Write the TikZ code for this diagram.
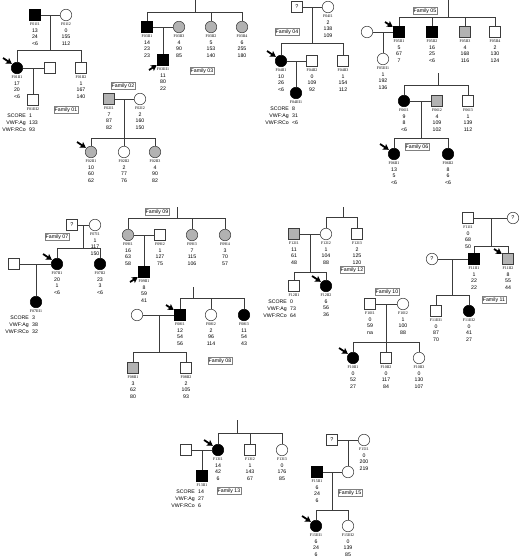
\documentclass[tikz,border=0pt]{standalone}
\usepackage{fontspec}
\setmainfont{Liberation Sans}
\newfontfamily\serifid{Liberation Serif}
\usetikzlibrary{arrows.meta}
\definecolor{ln}{RGB}{60,60,60}
\definecolor{pgray}{RGB}{178,178,178}
\tikzset{
 person/.style={draw=ln, line width=0.55pt, inner sep=0pt, fill=white},
 male/.style={person, rectangle, minimum size=11pt},
 female/.style={person, circle, minimum size=11.5pt},
 aff/.style={fill=black, draw=black},
 part/.style={fill=pgray},
 link/.style={draw=ln, line width=0.55pt},
 idt/.style={font=\serifid\fontsize{4}{4}\selectfont, anchor=base, inner sep=0pt},
 valt/.style={font=\fontsize{5.2}{5.2}\selectfont, anchor=base, inner sep=0pt},
 fam/.style={draw=gray, line width=0.35pt, font=\fontsize{5.2}{5.2}\selectfont, inner sep=1pt},
 proband/.style={-{Stealth[length=5.5pt,width=6.5pt,inset=1pt]}, line width=1.8pt, draw=black, shorten >=0.6pt},
}
\newcommand\info[5]{%
 \node[idt] (#1-id) at ([yshift=-10.3pt]#1.center) {#2};
 \node[valt] (#1-a) at ([yshift=-17pt]#1.center) {#3};
 \node[valt] (#1-b) at ([yshift=-23.8pt]#1.center) {#4};
 \node[valt] (#1-c) at ([yshift=-30.6pt]#1.center) {#5};}
\newcommand\score[5]{%
 \node[idt] (#1-id) at ([yshift=-10.3pt]#1.center) {#2};
 \node[valt, anchor=base east] (#1-sl) at ([xshift=-7pt,yshift=-17.5pt]#1.center) {SCORE};
 \node[valt, anchor=base west] (#1-sv) at ([xshift=-4pt,yshift=-17.5pt]#1.center) {#3};
 \node[valt, anchor=base east] (#1-al) at ([xshift=-7pt,yshift=-24.5pt]#1.center) {VWF:Ag};
 \node[valt, anchor=base west] (#1-av) at ([xshift=-4pt,yshift=-24.5pt]#1.center) {#4};
 \node[valt, anchor=base east] (#1-rl) at ([xshift=-7pt,yshift=-31.5pt]#1.center) {VWF:RCo};
 \node[valt, anchor=base west] (#1-rv) at ([xshift=-4pt,yshift=-31.5pt]#1.center) {#5};}
\newcommand\arrUL[1]{\coordinate (#1-p) at ([shift={(-14,-10)}]#1.center); \draw[proband] (#1-p) -- (#1.140);}
\newcommand\arrLL[1]{\coordinate (#1-p) at ([shift={(-14,10)}]#1.center); \draw[proband] (#1-p) -- (#1.220);}
\newcommand\unk{\fontsize{5.5}{5.5}\selectfont ?}
\begin{document}
\begin{tikzpicture}[x=1pt,y=-1pt]
\fill[white] (0,0) rectangle (520,560);
\useasboundingbox (0,0) rectangle (520,560);

% ---------------- Family 01
\node[male,aff] (F01I1) at (35,15) {};
\node[female] (F01I2) at (66,15) {};
\node[female,aff] (F01II1) at (17,68) {};
\node[male] (F01sp) at (50,68) {};
\node[male] (F01II2) at (81,68) {};
\node[male] (F01III2) at (33,100) {};
\coordinate (F01m) at (50,15); \coordinate (F01s) at (50,50); \coordinate (F01m2) at (33,68);
\draw[link] (F01I1) -- (F01I2);
\draw[link] (F01m) -- (F01s);
\draw[link] (F01II1 |- F01s) -- (F01II2 |- F01s);
\draw[link] (F01II1 |- F01s) -- (F01II1);
\draw[link] (F01II2 |- F01s) -- (F01II2);
\draw[link] (F01II1) -- (F01sp);
\draw[link] (F01m2) -- (F01III2);
\arrUL{F01II1}
\info{F01I1}{F01I1}{13}{24}{<6}
\info{F01I2}{F01I2}{0}{155}{112}
\info{F01II1}{F01II1}{17}{20}{<6}
\info{F01II2}{F01II2}{1}{167}{140}
\score{F01III2}{F01III2}{1}{133}{93}
\node[fam] (fam01) at (66,110) {Family 01};

% ---------------- Family 02
\node[male,part] (F02I1) at (109,99) {};
\node[female] (F02I2) at (140,99) {};
\node[female,part] (F02II1) at (91,152) {};
\node[female] (F02II2) at (124,152) {};
\node[female,part] (F02II3) at (155,152) {};
\coordinate (F02m) at (124,99); \coordinate (F02s) at (124,138);
\draw[link] (F02I1) -- (F02I2);
\draw[link] (F02m) -- (F02II2);
\draw[link] (F02II1 |- F02s) -- (F02II3 |- F02s);
\draw[link] (F02II1 |- F02s) -- (F02II1);
\draw[link] (F02II3 |- F02s) -- (F02II3);
\arrUL{F02II1}
\info{F02I1}{F02I1}{7}{87}{82}
\info{F02I2}{F02I2}{2}{160}{150}
\info{F02II1}{F02II1}{10}{60}{62}
\info{F02II2}{F02II2}{2}{77}{76}
\info{F02II3}{F02II3}{4}{90}{82}
\node[fam] (fam02) at (123,86) {Family 02};

% ---------------- Family 03
\node[male,aff] (F03II1) at (147,27) {};
\node[female,part] (F03II3) at (179,27) {};
\node[female,part] (F03II2) at (211,27) {};
\node[female,part] (F03II4) at (242,27) {};
\node[male,aff] (F03III1) at (163,60) {};
\coordinate (F03t) at (195,0); \coordinate (F03s) at (195,12); \coordinate (F03m) at (163,27);
\draw[link] (F03t) -- (F03s);
\draw[link] (F03II1 |- F03s) -- (F03II4 |- F03s);
\draw[link] (F03II1 |- F03s) -- (F03II1);
\draw[link] (F03II2 |- F03s) -- (F03II2);
\draw[link] (F03II4 |- F03s) -- (F03II4);
\draw[link] (F03II1) -- (F03II3);
\draw[link] (F03m) -- (F03III1);
\arrLL{F03III1}
\info{F03II1}{F03II1}{14}{23}{23}
\info{F03II3}{F03II3}{4}{90}{85}
\info{F03II2}{F03II2}{5}{153}{140}
\info{F03II4}{F03II4}{6}{255}{180}
\info{F03III1}{F03III1}{11}{80}{22}
\node[fam] (fam03) at (202,71) {Family 03};

% ---------------- Family 04
\node[male] (F04u) at (297,7) {\unk};
\node[female] (F04I1) at (328,7) {};
\node[female,aff] (F04II1) at (281,61) {};
\node[male] (F04II2) at (312,61) {};
\node[male] (F04II3) at (343,61) {};
\node[female,aff] (F04III1) at (296,93) {};
\coordinate (F04m) at (312,7); \coordinate (F04s) at (312,43); \coordinate (F04m2) at (296,61);
\draw[link] (F04u) -- (F04I1);
\draw[link] (F04m) -- (F04s);
\draw[link] (F04II1 |- F04s) -- (F04II3 |- F04s);
\draw[link] (F04II1 |- F04s) -- (F04II1);
\draw[link] (F04II3 |- F04s) -- (F04II3);
\draw[link] (F04II1) -- (F04II2);
\draw[link] (F04m2) -- (F04III1);
\arrUL{F04II1}
\info{F04I1}{F04I1}{2}{138}{109}
\info{F04II1}{F04II1}{10}{26}{<6}
\info{F04II2}{F04II2}{0}{109}{92}
\info{F04II3}{F04II3}{1}{154}{112}
\score{F04III1}{F04III1}{8}{31}{<6}
\node[fam] (fam04) at (287,32) {Family 04};

% ---------------- Family 05
\node[female] (F05sp) at (367,32) {};
\node[male,aff] (F05II1) at (399,32) {};
\node[male,aff] (F05II2) at (432,32) {};
\node[male,part] (F05II3) at (465,32) {};
\node[male] (F05II4) at (495,32) {};
\node[female] (F05III1) at (383,59) {};
\coordinate (F05t) at (448,0); \coordinate (F05s) at (448,17); \coordinate (F05m) at (383,32);
\draw[link] (F05t) -- (F05s);
\draw[link] (F05II1 |- F05s) -- (F05II4 |- F05s);
\draw[link] (F05II1 |- F05s) -- (F05II1);
\draw[link] (F05II2 |- F05s) -- (F05II2);
\draw[link] (F05II3 |- F05s) -- (F05II3);
\draw[link] (F05II4 |- F05s) -- (F05II4);
\draw[link] (F05sp) -- (F05II1);
\draw[link] (F05m) -- (F05III1);
\arrUL{F05II1}
\info{F05II1}{F05II1}{5}{67}{7}
\info{F05II2}{F05II2}{16}{25}{<6}
\info{F05II3}{F05II3}{4}{168}{116}
\info{F05II4}{F05II4}{2}{130}{124}
\info{F05III1}{F05III1}{1}{192}{136}
\node[fam] (fam05) at (425,11) {Family 05};

% ---------------- Family 06
\node[female,aff] (F06I1) at (404,101) {};
\node[male,part] (F06I2) at (437,101) {};
\node[male] (F06I3) at (468,101) {};
\node[female,aff] (F06II1) at (394,154) {};
\node[female,aff] (F06II2) at (448,154) {};
\coordinate (F06t) at (438,73); \coordinate (F06s) at (438,85);
\coordinate (F06m) at (421,101); \coordinate (F06s2) at (421,138);
\draw[link] (F06t) -- (F06s);
\draw[link] (F06I1 |- F06s) -- (F06I3 |- F06s);
\draw[link] (F06I1 |- F06s) -- (F06I1);
\draw[link] (F06I3 |- F06s) -- (F06I3);
\draw[link] (F06I1) -- (F06I2);
\draw[link] (F06m) -- (F06s2);
\draw[link] (F06II1 |- F06s2) -- (F06II2 |- F06s2);
\draw[link] (F06II1 |- F06s2) -- (F06II1);
\draw[link] (F06II2 |- F06s2) -- (F06II2);
\arrUL{F06II1}
\info{F06I1}{F06I1}{9}{8}{<6}
\info{F06I2}{F06I2}{4}{109}{102}
\info{F06I3}{F06I3}{1}{139}{112}
\info{F06II1}{F06II1}{13}{5}{<6}
\info{F06II2}{F06II2}{8}{6}{<6}
\node[fam] (fam06) at (417,147) {Family 06};

% ---------------- Family 07
\node[male] (F07u) at (72,225) {\unk};
\node[female] (F07I1) at (95,225) {};
\node[male] (F07sp) at (14,264) {};
\node[female,aff] (F07II1) at (57,264) {};
\node[female,aff] (F07II2) at (100,264) {};
\node[female,aff] (F07III1) at (36,302) {};
\coordinate (F07m) at (83,225); \coordinate (F07s) at (83,248); \coordinate (F07m2) at (36,264);
\draw[link] (F07u) -- (F07I1);
\draw[link] (F07m) -- (F07s);
\draw[link] (F07II1 |- F07s) -- (F07II2 |- F07s);
\draw[link] (F07II1 |- F07s) -- (F07II1);
\draw[link] (F07II2 |- F07s) -- (F07II2);
\draw[link] (F07sp) -- (F07II1);
\draw[link] (F07m2) -- (F07III1);
\arrUL{F07II1}
\info{F07I1}{F07I1}{1}{117}{150}
\info{F07II1}{F07II1}{20}{1}{<6}
\info{F07II2}{F07II2}{23}{3}{<6}
\score{F07III1}{F07III1}{3}{38}{32}
\node[fam] (fam07) at (57,237) {Family 07};

% ---------------- Family 09
\node[female,part] (F09I1) at (128,235) {};
\node[male] (F09I2) at (160,235) {};
\node[female,part] (F09I3) at (192,235) {};
\node[female,part] (F09I4) at (225,235) {};
\node[male,aff] (F09II1) at (144,272) {};
\coordinate (F09t) at (177,207); \coordinate (F09s) at (177,218); \coordinate (F09m) at (144,235);
\draw[link] (F09t) -- (F09s);
\draw[link] (F09I1 |- F09s) -- (F09I4 |- F09s);
\draw[link] (F09I1 |- F09s) -- (F09I1);
\draw[link] (F09I3 |- F09s) -- (F09I3);
\draw[link] (F09I4 |- F09s) -- (F09I4);
\draw[link] (F09I1) -- (F09I2);
\draw[link] (F09m) -- (F09II1);
\arrLL{F09II1}
\info{F09I1}{F09I1}{16}{63}{58}
\info{F09I2}{F09I2}{1}{127}{75}
\info{F09I3}{F09I3}{7}{115}{106}
\info{F09I4}{F09I4}{3}{70}{57}
\info{F09II1}{F09II1}{8}{59}{41}
\node[fam] (fam09) at (157,212) {Family 09};

% ---------------- Family 08
\node[female] (F08sp) at (137,315) {};
\node[male,aff] (F08I1) at (180,315) {};
\node[female] (F08I2) at (211,315) {};
\node[female,aff] (F08I3) at (244,315) {};
\node[male,part] (F08II1) at (133,368) {};
\node[male] (F08II2) at (186,368) {};
\coordinate (F08t) at (193,287); \coordinate (F08s) at (193,298);
\coordinate (F08m) at (159,315); \coordinate (F08s2) at (159,352);
\draw[link] (F08t) -- (F08s);
\draw[link] (F08I1 |- F08s) -- (F08I3 |- F08s);
\draw[link] (F08I1 |- F08s) -- (F08I1);
\draw[link] (F08I2 |- F08s) -- (F08I2);
\draw[link] (F08I3 |- F08s) -- (F08I3);
\draw[link] (F08sp) -- (F08I1);
\draw[link] (F08m) -- (F08s2);
\draw[link] (F08II1 |- F08s2) -- (F08II2 |- F08s2);
\draw[link] (F08II1 |- F08s2) -- (F08II1);
\draw[link] (F08II2 |- F08s2) -- (F08II2);
\arrUL{F08I1}
\info{F08I1}{F08I1}{12}{54}{56}
\info{F08I2}{F08I2}{2}{96}{114}
\info{F08I3}{F08I3}{11}{54}{43}
\info{F08II1}{F08II1}{3}{62}{80}
\info{F08II2}{F08II2}{2}{105}{93}
\node[fam] (fam08) at (220,361) {Family 08};

% ---------------- Family 12
\node[male,part] (F12I1) at (294,234) {};
\node[female] (F12I2) at (326,234) {};
\node[male] (F12I3) at (357,234) {};
\node[male] (F12II1) at (294,286) {};
\node[female,aff] (F12II2) at (326,286) {};
\coordinate (F12t) at (343,207); \coordinate (F12s) at (343,217);
\coordinate (F12m) at (310,234); \coordinate (F12s2) at (310,272);
\draw[link] (F12t) -- (F12s);
\draw[link] (F12I2 |- F12s) -- (F12I3 |- F12s);
\draw[link] (F12I2 |- F12s) -- (F12I2);
\draw[link] (F12I3 |- F12s) -- (F12I3);
\draw[link] (F12I1) -- (F12I2);
\draw[link] (F12m) -- (F12s2);
\draw[link] (F12II1 |- F12s2) -- (F12II2 |- F12s2);
\draw[link] (F12II1 |- F12s2) -- (F12II1);
\draw[link] (F12II2 |- F12s2) -- (F12II2);
\arrUL{F12II2}
\info{F12I1}{F12I1}{11}{61}{48}
\info{F12I2}{F12I2}{1}{104}{88}
\info{F12I3}{F12I3}{2}{125}{120}
\score{F12II1}{F12II1}{0}{73}{64}
\info{F12II2}{F12II2}{6}{56}{36}
\node[fam] (fam12) at (352,270) {Family 12};

% ---------------- Family 10
\node[male] (F10I1) at (370,304) {};
\node[female] (F10I2) at (403,304) {};
\node[female,aff] (F10II1) at (353,358) {};
\node[male] (F10II2) at (386,358) {};
\node[female] (F10II3) at (419,358) {};
\coordinate (F10m) at (386,304); \coordinate (F10s) at (386,342);
\draw[link] (F10I1) -- (F10I2);
\draw[link] (F10m) -- (F10II2);
\draw[link] (F10II1 |- F10s) -- (F10II3 |- F10s);
\draw[link] (F10II1 |- F10s) -- (F10II1);
\draw[link] (F10II3 |- F10s) -- (F10II3);
\arrUL{F10II1}
\info{F10I1}{F10I1}{0}{59}{na}
\info{F10I2}{F10I2}{1}{100}{88}
\info{F10II1}{F10II1}{0}{52}{27}
\info{F10II2}{F10II2}{0}{117}{84}
\info{F10II3}{F10II3}{0}{130}{107}
\node[fam] (fam10) at (387,292) {Family 10};

% ---------------- Family 11
\node[male] (F11I1) at (468,218) {};
\node[female] (F11u) at (513,218) {\unk};
\node[female] (F11sp) at (432,259) {\unk};
\node[male,aff] (F11II1) at (474,259) {};
\node[male,part] (F11II2) at (508,259) {};
\node[male] (F11III1) at (436,311) {};
\node[female,aff] (F11III2) at (469,311) {};
\coordinate (F11m) at (491,218); \coordinate (F11s) at (491,246);
\coordinate (F11m2) at (452,259); \coordinate (F11s2) at (452,295);
\draw[link] (F11I1) -- (F11u);
\draw[link] (F11m) -- (F11s);
\draw[link] (F11II1 |- F11s) -- (F11II2 |- F11s);
\draw[link] (F11II1 |- F11s) -- (F11II1);
\draw[link] (F11II2 |- F11s) -- (F11II2);
\draw[link] (F11sp) -- (F11II1);
\draw[link] (F11m2) -- (F11s2);
\draw[link] (F11III1 |- F11s2) -- (F11III2 |- F11s2);
\draw[link] (F11III1 |- F11s2) -- (F11III1);
\draw[link] (F11III2 |- F11s2) -- (F11III2);
\arrUL{F11II2}
\info{F11I1}{F11I1}{0}{68}{50}
\info{F11II1}{F11II1}{1}{22}{22}
\info{F11II2}{F11II2}{8}{55}{44}
\info{F11III1}{F11III1}{0}{87}{70}
\info{F11III2}{F11III2}{0}{41}{27}
\node[fam] (fam11) at (494,300) {Family 11};

% ---------------- Family 13
\node[male] (F13sp) at (186,450) {};
\node[female,aff] (F13I1) at (218,450) {};
\node[male] (F13I2) at (250,450) {};
\node[female] (F13I3) at (282,450) {};
\node[male,aff] (F13II1) at (202,476) {};
\coordinate (F13t) at (237,420); \coordinate (F13s) at (237,433); \coordinate (F13m) at (202,450);
\draw[link] (F13t) -- (F13s);
\draw[link] (F13I1 |- F13s) -- (F13I3 |- F13s);
\draw[link] (F13I1 |- F13s) -- (F13I1);
\draw[link] (F13I2 |- F13s) -- (F13I2);
\draw[link] (F13I3 |- F13s) -- (F13I3);
\draw[link] (F13sp) -- (F13I1);
\draw[link] (F13m) -- (F13II1);
\arrUL{F13I1}
\info{F13I1}{F13I1}{14}{42}{6}
\info{F13I2}{F13I2}{1}{143}{67}
\info{F13I3}{F13I3}{0}{176}{85}
\score{F13II1}{F13II1}{14}{27}{6}
\node[fam] (fam13) at (229,491) {Family 13};

% ---------------- Family 15
\node[male] (F15u) at (332,440) {\unk};
\node[female] (F15I1) at (364,440) {};
\node[male,aff] (F15II1) at (317,472) {};
\node[female] (F15sp) at (348,472) {};
\node[female,aff] (F15III1) at (316,526) {};
\node[female] (F15III2) at (348,526) {};
\coordinate (F15m) at (348,440); \coordinate (F15m2) at (332,472); \coordinate (F15s) at (332,510);
\draw[link] (F15u) -- (F15I1);
\draw[link] (F15m) -- (F15sp);
\draw[link] (F15II1) -- (F15sp);
\draw[link] (F15m2) -- (F15s);
\draw[link] (F15III1 |- F15s) -- (F15III2 |- F15s);
\draw[link] (F15III1 |- F15s) -- (F15III1);
\draw[link] (F15III2 |- F15s) -- (F15III2);
\arrUL{F15III1}
\info{F15I1}{F15I1}{0}{200}{219}
\info{F15II1}{F15II1}{6}{24}{6}
\info{F15III1}{F15III1}{6}{24}{6}
\info{F15III2}{F15III2}{0}{139}{85}
\node[fam] (fam15) at (350,493) {Family 15};
\end{tikzpicture}
\end{document}
